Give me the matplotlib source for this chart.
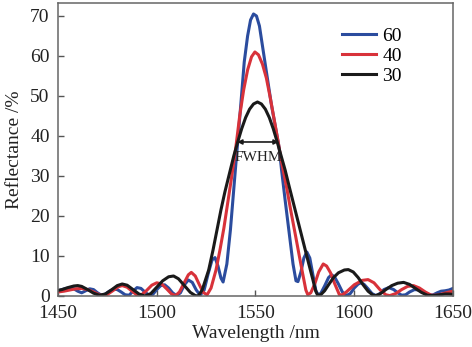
import numpy as np
import matplotlib
matplotlib.use("Agg")
import matplotlib.pyplot as plt

plt.rcParams['font.family'] = ['Liberation Serif', 'DejaVu Serif']

# curve "60" (blue)
wl_60 = [1450, 1452, 1454, 1456, 1458, 1460, 1462, 1464, 1466, 1468, 1470, 1472, 1474, 1476,
         1478, 1480, 1482, 1484, 1486, 1488, 1490, 1492, 1494, 1496, 1498, 1500, 1502, 1504,
         1506, 1508, 1510, 1512, 1514, 1516, 1518, 1520, 1522, 1524, 1526, 1528, 1529.5, 1531,
         1532.5, 1533.6, 1535.5, 1537.3, 1539.8, 1541, 1542.5, 1544.3, 1546, 1547.5, 1549,
         1550.5, 1552, 1554, 1556, 1558, 1560, 1562, 1563.2, 1565, 1567, 1569, 1570.5, 1571.5,
         1573, 1574.5, 1576, 1577.5, 1579, 1580.5, 1581.5, 1583, 1585, 1587, 1588.5, 1590, 1592,
         1594, 1596, 1598, 1600, 1602, 1603.5, 1605, 1607, 1609, 1611, 1613, 1615, 1617.5, 1620,
         1622, 1624, 1626, 1628, 1630.5, 1633, 1635.5, 1638, 1640, 1642, 1644, 1646, 1648, 1650]
r_60 = [1.3, 1.6, 1.9, 2.0, 1.8, 1.2, 0.8, 1.3, 1.8, 1.6, 0.8, 0.2, 0.5, 1.2,
        1.7, 1.6, 1.0, 0.3, 0.2, 1.2, 2.1, 1.9, 1.0, 0.2, 0.4, 1.6, 2.6, 2.8,
        2.0, 0.8, 0.1, 0.8, 2.8, 4.0, 3.4, 1.5, 0.2, 1.5, 5.5, 9.0, 9.6, 7.5,
        4.5, 3.5, 8.0, 16.5, 31.5, 38.5, 47.5, 58.5, 65.0, 69.0, 70.5,
        70.0, 67.5, 61.0, 54.5, 48.0, 42.5, 37.0, 31.5, 24.0, 16.0, 8.0, 3.8, 3.6,
        6.0, 9.5, 11.0, 9.5, 5.5, 1.5, 0.4, 0.6, 2.5, 4.6, 5.3, 4.8, 3.0,
        1.0, 0.1, 0.6, 2.0, 3.0, 3.3, 2.9, 1.8, 0.6, 0.1, 0.6, 1.6, 2.1, 1.6,
        0.8, 0.2, 0.3, 1.0, 1.6, 1.5, 0.8, 0.2, 0.3, 0.8, 1.2, 1.3, 1.5, 1.9]

# curve "40" (red)
wl_40 = [1450, 1453, 1456, 1459, 1462, 1465, 1468, 1471, 1473, 1475, 1478, 1480.5, 1482.5, 1485,
         1487.5, 1490, 1492, 1494.5, 1497.5, 1500, 1502.5, 1505, 1507.5, 1509.5, 1511.5, 1514,
         1516, 1517.5, 1519.5, 1521.5, 1523.5, 1525.5, 1527.5, 1530, 1532, 1534, 1536, 1538,
         1540, 1542, 1544, 1546, 1548, 1549.7, 1551.5, 1553.5, 1555.5, 1557.5, 1559.5, 1561.5,
         1563, 1564, 1566, 1568, 1570, 1572, 1574, 1575.5, 1576.5, 1578, 1580, 1582, 1584.3,
         1586, 1588, 1590, 1592.5, 1594, 1596, 1600, 1604, 1607, 1610, 1613, 1616, 1618, 1621,
         1624, 1627, 1630, 1633, 1636, 1639, 1642, 1645, 1648, 1650]
r_40 = [1.0, 1.2, 1.5, 1.8, 1.9, 1.6, 1.0, 0.3, 0.1, 0.4, 1.4, 2.3, 2.6, 2.2,
        1.2, 0.2, 0.2, 1.2, 2.7, 3.3, 3.0, 1.8, 0.5, 0.1, 1.0, 3.4,
        5.3, 5.9, 5.0, 2.9, 0.9, 0.3, 2.0, 6.5, 11.5, 17.0, 23.5, 30.0,
        37.0, 45.0, 51.5, 56.5, 59.8, 61.0, 60.3, 58.0, 54.5, 49.5, 44.0, 38.5,
        34.0, 31.5, 26.5, 21.0, 15.8, 10.5, 5.3, 1.5, 0.3, 0.8, 3.0, 6.0, 8.0,
        7.5, 5.8, 3.2, 0.3, 0.3, 1.0, 2.8, 3.9, 4.1, 3.3, 1.6, 0.3, 0.1, 0.6,
        1.6, 2.4, 2.6, 2.0, 1.0, 0.2, 0.2, 0.6, 1.0, 1.2]

# curve "30" (black)
wl_30 = [1450, 1452, 1455, 1458, 1460, 1462, 1465, 1468, 1471, 1474, 1477, 1480, 1482.5, 1485,
         1488, 1491, 1494, 1497, 1500, 1503, 1506, 1508.5, 1511, 1514, 1517, 1519.5, 1521, 1523,
         1526.3, 1528.5, 1530.5, 1532.5, 1534.5, 1537, 1539, 1541, 1543, 1545, 1547, 1549, 1551,
         1553, 1555, 1557, 1559, 1561, 1563, 1565, 1567, 1569, 1571, 1573, 1575, 1577, 1579,
         1580.5, 1581.5, 1583, 1585, 1587, 1589.5, 1592, 1595, 1597, 1599.5, 1602, 1604.5, 1607,
         1609.5, 1611, 1613, 1616, 1619, 1622, 1625, 1628, 1631, 1634, 1637, 1640, 1643, 1646,
         1648, 1650]
r_30 = [1.4, 1.6, 2.1, 2.5, 2.6, 2.4, 1.6, 0.7, 0.2, 0.5, 1.5, 2.6, 3.0, 2.7,
        1.6, 0.5, 0.0, 0.6, 2.2, 3.8, 4.8, 5.0, 4.3, 2.6, 0.9, 0.1, 0.0, 1.5,
        6.5, 11.5, 16.5, 21.5, 26.0, 31.0, 35.0, 38.5, 41.8, 44.6, 46.7, 48.0, 48.5,
        48.0, 46.7, 44.6, 41.8, 38.5, 35.0, 31.5, 27.5, 23.6, 19.7, 15.8, 11.9, 8.0, 4.2,
        1.2, 0.2, 0.3, 1.3, 2.8, 4.6, 5.8, 6.5, 6.6, 6.0, 4.6, 2.8, 1.2,
        0.2, 0.1, 0.5, 1.6, 2.6, 3.2, 3.4, 2.9, 1.9, 0.9, 0.2, 0.1, 0.3, 0.5,
        0.5, 0.4]

labels = ["60", "40", "30"]
colors = ["#2b4c9e", "#d8323a", "#1a1a1a"]
fwhm_left, fwhm_right, fwhm_level = 1540.7, 1561.8, 38.5

fig = plt.figure(figsize=(4.72, 3.47), dpi=100)
ax = fig.add_axes([0.1229, 0.147, 0.8368, 0.8444])

for wl, r, lab, c in zip([wl_60, wl_40, wl_30], [r_60, r_40, r_30], labels, colors):
    ax.plot(wl, r, color=c, lw=2.2, label=lab, solid_joinstyle='round')

ax.annotate("", xy=(fwhm_left, fwhm_level), xytext=(fwhm_right, fwhm_level),
            arrowprops=dict(arrowstyle="<|-|>", color="#1a1a1a", lw=1.2,
                            mutation_scale=7, shrinkA=0, shrinkB=0))
ax.text((fwhm_left + fwhm_right) / 2, fwhm_level - 2.2, "FWHM", ha="center", va="top",
        fontsize=11, color="#222")

ax.set_xlim(1450, 1650)
ax.set_ylim(0, 73.25)
ax.set_xticks(np.arange(1450, 1651, 50))
ax.set_yticks(np.arange(0, 71, 10))
ax.tick_params(direction="in", length=4, width=1, colors="#555", labelcolor="#222",
               labelsize=14, top=False, right=False)
ax.tick_params(axis="x", pad=6.5)
ax.tick_params(axis="y", pad=6)
for s in ax.spines.values():
    s.set_color("#666")
    s.set_linewidth(1.1)

ax.set_xlabel("Wavelength /nm", fontsize=14, color="#222", labelpad=2)
ax.set_ylabel("Reflectance /%", fontsize=14, color="#222", labelpad=5)

ax.legend(frameon=False, loc="upper left", bbox_to_anchor=(0.72, 0.918), fontsize=14,
          handlelength=1.75, handletextpad=0.3, labelspacing=0.12, borderpad=0,
          borderaxespad=0)

fig.savefig("out.png", dpi=100)
